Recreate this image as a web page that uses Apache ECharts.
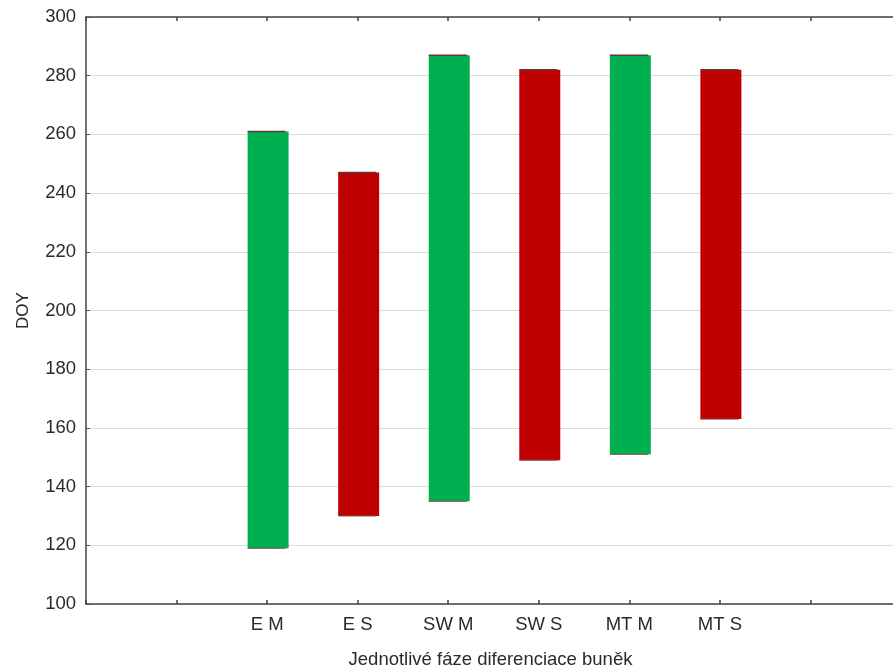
<!DOCTYPE html>
<html>
<head>
<meta charset="utf-8">
<script src="https://cdn.jsdelivr.net/npm/echarts@6/dist/echarts.min.js"></script>
<style>
  html, body { margin: 0; padding: 0; background: #fff; }
  #chart { width: 893px; height: 670px; }
</style>
</head>
<body>
<div id="chart"></div>
<script>
// Category slots along the x axis (blank slots pad both ends)
const categories = ['', '', 'E M', 'E S', 'SW M', 'SW S', 'MT M', 'MT S', '', ''];
// Phase names and their DOY ranges
const phases = ['E M', 'E S', 'SW M', 'SW S', 'MT M', 'MT S'];
const startDOY = [119, 130, 135, 149, 151, 163];
const endDOY   = [261, 247, 287, 282, 287, 282];
// Y axis ticks
const yMin = 100, yMax = 300, yStep = 20;

const GREEN = '#00b050';
const RED = '#c00000';

const rows = phases.map((p, i) => [p, startDOY[i], endDOY[i]]);

const chart = echarts.init(document.getElementById('chart'));
const font = 'Liberation Sans, Arial, sans-serif';
const fs = 18.5;

chart.setOption({
  animation: false,
  grid: { left: 86, top: 17, bottom: 66, width: 815, outerBoundsMode: 'none', containLabel: false },
  xAxis: [{
    type: 'category',
    data: categories,
    boundaryGap: false,
    position: 'bottom',
    axisLine: { lineStyle: { color: '#444', width: 1.5 } },
    axisTick: { inside: true, length: 4, interval: 0, lineStyle: { color: '#444', width: 1.5 } },
    axisLabel: { interval: 0, color: '#2a2a2a', fontSize: fs, fontFamily: font, margin: 11 },
    splitLine: { show: false },
    name: 'Jednotlivé fáze diferenciace buněk',
    nameLocation: 'middle',
    nameGap: 46,
    nameTextStyle: { color: '#2a2a2a', fontSize: fs, fontFamily: font, padding: [0, 0, 0, -6] }
  }, {
    type: 'category',
    data: categories,
    boundaryGap: false,
    position: 'top',
    axisLine: { lineStyle: { color: '#444', width: 1.5 } },
    axisTick: { inside: true, length: 4, interval: 0, lineStyle: { color: '#444', width: 1.5 } },
    axisLabel: { show: false }
  }],
  yAxis: {
    type: 'value',
    min: yMin, max: yMax, interval: yStep,
    axisLine: { show: true, lineStyle: { color: '#444', width: 1.5 } },
    axisTick: { show: true, inside: true, length: 4, lineStyle: { color: '#555', width: 1 } },
    axisLabel: { color: '#2a2a2a', fontSize: fs, fontFamily: font, margin: 10 },
    splitLine: { lineStyle: { color: '#dcdcdc', width: 1 } },
    name: 'DOY',
    nameLocation: 'middle',
    nameGap: 54,
    nameTextStyle: { color: '#2a2a2a', fontSize: 17, fontFamily: font }
  },
  series: [{
    type: 'custom',
    data: rows,
    encode: { x: 0, y: [1, 2] },
    renderItem: function (params, api) {
      const name = phases[params.dataIndex];
      const cat = api.value(0);
      const lo = api.coord([cat, api.value(1)]);
      const hi = api.coord([cat, api.value(2)]);
      const w = 41;
      const x = lo[0] - w / 2 + 1;
      const color = name.endsWith('M') ? GREEN : RED;
      return {
        type: 'group',
        children: [{
          type: 'rect',
          shape: { x: x, y: hi[1], width: w, height: lo[1] - hi[1] },
          style: { fill: color }
        }, {
          type: 'line',
          shape: { x1: x, y1: hi[1], x2: x + w - 3, y2: hi[1] },
          style: { stroke: '#5e3a3a', lineWidth: 1.5 }
        }, {
          type: 'line',
          shape: { x1: x, y1: lo[1], x2: x + w - 3, y2: lo[1] },
          style: { stroke: '#7a4a4a', lineWidth: 1 }
        }]
      };
    }
  }]
});
</script>
</body>
</html>
